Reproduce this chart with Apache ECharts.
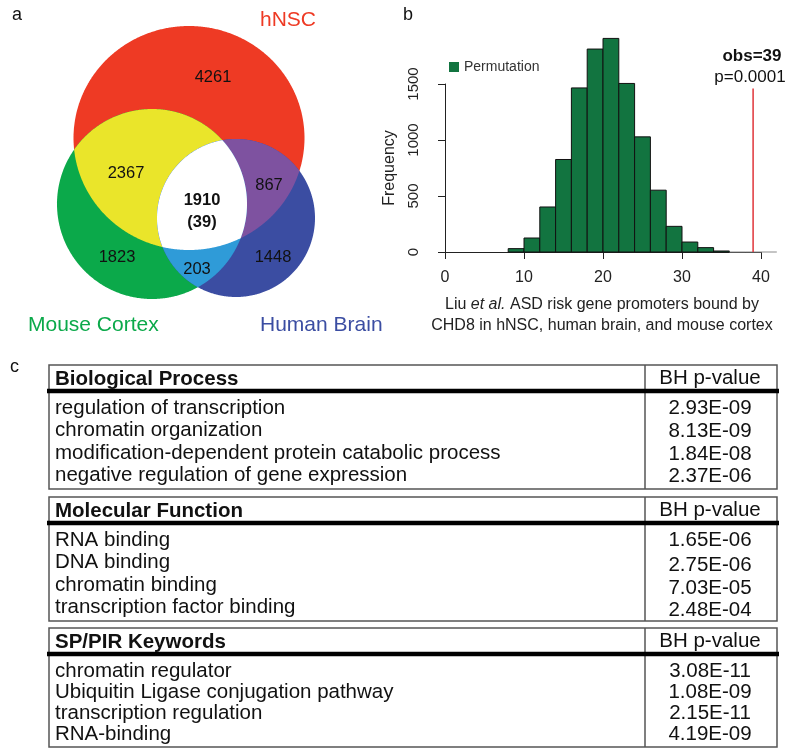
<!DOCTYPE html>
<html><head><meta charset="utf-8">
<script src="https://cdn.jsdelivr.net/npm/echarts@6/dist/echarts.min.js"></script>
<style>html,body{margin:0;padding:0;background:#fff}#c{width:800px;height:755px}</style>
</head><body><div id="c"></div>
<script>
// ---------- DATA ----------
// Panel a: Venn diagram
const setNames = ['hNSC', 'Mouse Cortex', 'Human Brain'];
const vennRegionNames = ['hNSC only', 'hNSC & Mouse Cortex', 'hNSC & Human Brain', 'all three', 'Mouse Cortex only', 'Mouse Cortex & Human Brain', 'Human Brain only'];
const vennCounts = [4261, 2367, 867, 1910, 1823, 203, 1448];
const asdInAllThree = 39;

// Panel b: permutation histogram
const binStarts = [8, 10, 12, 14, 16, 18, 20, 22, 24, 26, 28, 30, 32, 34, 36, 38, 40];
const binCounts = [30, 125, 402, 826, 1465, 1812, 1907, 1505, 1028, 552, 229, 89, 39, 9, 0, 0, 0];
const binWidth = 2;
const observedValue = 39;
const observedLineTop = 1460;
const pValueLabel = 'p=0.0001';
const xTickValues = [0, 10, 20, 30, 40];
const yTickValues = [0, 500, 1000, 1500];

// Panel c: enrichment tables
const tableTitles = ['Biological Process', 'Molecular Function', 'SP/PIR Keywords'];
const pColumnTitle = 'BH p-value';
const bpTerms = ['regulation of transcription', 'chromatin organization', 'modification-dependent protein catabolic process', 'negative regulation of gene expression'];
const bpPValues = ['2.93E-09', '8.13E-09', '1.84E-08', '2.37E-06'];
const mfTerms = ['RNA binding', 'DNA binding', 'chromatin binding', 'transcription factor binding'];
const mfPValues = ['1.65E-06', '2.75E-06', '7.03E-05', '2.48E-04'];
const kwTerms = ['chromatin regulator', 'Ubiquitin Ligase conjugation pathway', 'transcription regulation', 'RNA-binding'];
const kwPValues = ['3.08E-11', '1.08E-09', '2.15E-11', '4.19E-09'];

// ---------- LAYOUT / STYLE ----------
const FONT = "'Liberation Sans', Arial, Helvetica, sans-serif";
const circles = [
  { cx: 189, cy: 138, rx: 115.5, ry: 112 }, // hNSC
  { cx: 152, cy: 204, rx: 95, ry: 95 },     // Mouse Cortex
  { cx: 236, cy: 218, rx: 79, ry: 79 }      // Human Brain
];
const setColors = ['#EE3A24', '#0BA94A', '#3B4DA2'];
const pairColors = { rg: '#EAE52A', rb: '#7E52A0', gb: '#2F9BD8' };
const vennLabelPos = [[213, 77], [126, 173], [269, 185], [202, 200], [117, 257], [197, 269], [273, 257]];
const setLabelPos = [[288, 20, 'center'], [28, 325, 'left'], [260, 325, 'left']];

function exitT(px, py, dx, dy, e) {
  const ux = (px - e.cx) / e.rx, uy = (py - e.cy) / e.ry;
  const vx = dx / e.rx, vy = dy / e.ry;
  const a = vx * vx + vy * vy, b = ux * vx + uy * vy, c = ux * ux + uy * uy - 1;
  return (-b + Math.sqrt(Math.max(0, b * b - a * c))) / a;
}
function regionPoints(list) {
  let best = null, bd = -Infinity;
  for (let x = 0; x <= 360; x += 1.5) for (let y = 0; y <= 340; y += 1.5) {
    let d = Infinity;
    for (const e of list) d = Math.min(d, 1 - Math.hypot((x - e.cx) / e.rx, (y - e.cy) / e.ry));
    if (d > bd) { bd = d; best = [x, y]; }
  }
  const pts = [];
  const N = 720;
  for (let k = 0; k < N; k++) {
    const th = k / N * 2 * Math.PI, dx = Math.cos(th), dy = Math.sin(th);
    let t = Infinity;
    for (const e of list) t = Math.min(t, exitT(best[0], best[1], dx, dy, e));
    pts.push([best[0] + t * dx, best[1] + t * dy]);
  }
  return pts;
}
const [R, G, B] = circles;
const vennShapes = [
  { pts: regionPoints([R]), fill: setColors[0] },
  { pts: regionPoints([G]), fill: setColors[1] },
  { pts: regionPoints([B]), fill: setColors[2] },
  { pts: regionPoints([R, G]), fill: pairColors.rg },
  { pts: regionPoints([R, B]), fill: pairColors.rb },
  { pts: regionPoints([G, B]), fill: pairColors.gb },
  { pts: regionPoints([R, G, B]), fill: '#FFFFFF' }
];

function vennRender(params, api) {
  const children = [];
  vennShapes.forEach(s => {
    children.push({ type: 'polygon', shape: { points: s.pts.map(p => api.coord(p)) }, style: { fill: s.fill, stroke: null } });
  });
  vennCounts.forEach((v, i) => {
    const p = api.coord(vennLabelPos[i]);
    const bold = i === 3;
    children.push({ type: 'text', x: p[0], y: p[1], style: { text: String(v), font: (bold ? 'bold ' : '') + '16.5px ' + FONT, fill: '#111', textAlign: 'center', textVerticalAlign: 'middle', align: 'center', verticalAlign: 'middle' } });
  });
  const p39 = api.coord([vennLabelPos[3][0], vennLabelPos[3][1] + 22]);
  children.push({ type: 'text', x: p39[0], y: p39[1], style: { text: '(' + asdInAllThree + ')', font: 'bold 16.5px ' + FONT, fill: '#111', textAlign: 'center', textVerticalAlign: 'middle', align: 'center', verticalAlign: 'middle' } });
  setNames.forEach((n, i) => {
    const p = api.coord([setLabelPos[i][0], setLabelPos[i][1]]);
    children.push({ type: 'text', x: p[0], y: p[1], style: { text: n, font: '21px ' + FONT, fill: setColors[i], textAlign: setLabelPos[i][2], textVerticalAlign: 'middle', align: setLabelPos[i][2], verticalAlign: 'middle' } });
  });
  return { type: 'group', children };
}

function histRender(params, api) {
  const x0 = api.value(0), x1 = api.value(1), y = api.value(2);
  const pTop = api.coord([x0, y]);
  const pBot = api.coord([x1, 0]);
  if (y <= 0) {
    return { type: 'line', shape: { x1: pTop[0], y1: pBot[1], x2: pBot[0], y2: pBot[1] }, style: { stroke: '#8a8a8a', lineWidth: 1 } };
  }
  return { type: 'rect', shape: { x: pTop[0], y: pTop[1], width: pBot[0] - pTop[0], height: pBot[1] - pTop[1] }, style: { fill: '#127440', stroke: '#111', lineWidth: 1 } };
}

// ---------- TABLES (graphic) ----------
const tables = [
  { title: tableTitles[0], terms: bpTerms, pv: bpPValues, top: 365, step: 22.5, bottom: 489, pOff: 1 },
  { title: tableTitles[1], terms: mfTerms, pv: mfPValues, top: 497, step: 22.5, bottom: 621, pOff: 3 },
  { title: tableTitles[2], terms: kwTerms, pv: kwPValues, top: 628, step: 21.2, bottom: 747, pOff: 0 }
];
const TL = 49, TR = 777, TD = 645;
const TFONT = '20.5px ' + FONT;
const graphics = [];
function txt(x, y, text, font, align, fill) {
  return { type: 'text', x, y, style: { text, font, fill: fill || '#111', textAlign: align || 'left', textVerticalAlign: 'middle', align: align || 'left', verticalAlign: 'middle' } };
}
tables.forEach(t => {
  graphics.push({ type: 'rect', shape: { x: TL, y: t.top, width: TR - TL, height: t.bottom - t.top }, style: { fill: 'none', stroke: '#555', lineWidth: 1.5 } });
  graphics.push({ type: 'line', shape: { x1: TD, y1: t.top, x2: TD, y2: t.bottom }, style: { stroke: '#555', lineWidth: 1.5 } });
  graphics.push({ type: 'line', shape: { x1: TL - 2, y1: t.top + 26, x2: TR + 2, y2: t.top + 26 }, style: { stroke: '#000', lineWidth: 4.5 } });
  graphics.push(txt(55, t.top + 14, t.title, 'bold ' + TFONT));
  graphics.push(txt(710, t.top + 13, pColumnTitle, TFONT, 'center'));
  t.terms.forEach((term, i) => {
    const y = t.top + 43 + i * t.step;
    graphics.push(txt(55, y, term, TFONT));
    graphics.push(txt(710, y + (i ? t.pOff : 0), t.pv[i], TFONT, 'center'));
  });
});
// panel letters & histogram annotations
graphics.push(txt(12, 15, 'a', '18px ' + FONT));
graphics.push(txt(403, 15, 'b', '18px ' + FONT));
graphics.push(txt(10, 367, 'c', '18px ' + FONT));
graphics.push(txt(752, 56, 'obs=' + observedValue, 'bold 17px ' + FONT, 'center'));
graphics.push(txt(750, 77, pValueLabel, '17px ' + FONT, 'center'));
graphics.push({ type: 'text', x: 602, y: 305, style: { text: 'Liu {i|et al.} ASD risk gene promoters bound by', font: '16px ' + FONT, fill: '#222', textAlign: 'center', textVerticalAlign: 'middle', align: 'center', verticalAlign: 'middle', rich: { i: { font: 'italic 16px ' + FONT, fill: '#222' } } } });
graphics.push(txt(602, 326, 'CHD8 in hNSC, human brain, and mouse cortex', '16px ' + FONT, 'center', '#222'));

// ---------- CHART ----------
const chart = echarts.init(document.getElementById('c'), null, { renderer: 'canvas' });
chart.setOption({
  animation: false,
  backgroundColor: '#fff',
  textStyle: { fontFamily: FONT },
  grid: [
    { left: 0, top: 0, width: 360, height: 340 },
    { left: 445, top: 84, width: 316, height: 168 }
  ],
  xAxis: [
    { gridIndex: 0, type: 'value', min: 0, max: 360, show: false },
    { gridIndex: 1, type: 'value', min: xTickValues[0], max: xTickValues[xTickValues.length - 1], interval: 10, offset: 8,
      axisLine: { show: true, lineStyle: { color: '#222', width: 1 } },
      axisTick: { show: true, length: 7, lineStyle: { color: '#222' } },
      axisLabel: { fontSize: 16, color: '#222', margin: 10, fontFamily: FONT, formatter: v => String(v) },
      splitLine: { show: false } }
  ],
  yAxis: [
    { gridIndex: 0, type: 'value', min: 0, max: 340, inverse: true, show: false },
    { gridIndex: 1, type: 'value', min: yTickValues[0], max: yTickValues[yTickValues.length - 1], interval: 500, offset: 20,
      name: 'Frequency', nameLocation: 'middle', nameGap: 27, nameRotate: 90,
      nameTextStyle: { fontSize: 16, color: '#222', fontFamily: FONT },
      axisLine: { show: true, lineStyle: { color: '#222', width: 1 } },
      axisTick: { show: true, length: 7, lineStyle: { color: '#222' } },
      axisLabel: { fontSize: 15, color: '#222', rotate: 90, margin: 4, fontFamily: FONT, formatter: v => String(v) },
      splitLine: { show: false } }
  ],
  legend: {
    data: [{ name: 'Permutation', icon: 'rect' }],
    left: 444, top: 55, itemWidth: 10, itemHeight: 10, selectedMode: false,
    textStyle: { fontSize: 14, color: '#333', fontFamily: FONT }
  },
  graphic: { elements: graphics },
  series: [
    { type: 'custom', name: 'Venn', xAxisIndex: 0, yAxisIndex: 0, data: [[0, 0]], renderItem: vennRender, silent: true, clip: false },
    { type: 'custom', name: 'Permutation', xAxisIndex: 1, yAxisIndex: 1, clip: false,
      itemStyle: { color: '#127440' },
      encode: { x: [0, 1], y: 2 },
      data: binStarts.map((s, i) => [s, s + binWidth, binCounts[i]]),
      renderItem: histRender },
    { type: 'line', name: 'observed', xAxisIndex: 1, yAxisIndex: 1, symbol: 'none', clip: false,
      data: [[observedValue, 0], [observedValue, observedLineTop]],
      lineStyle: { color: '#E0353A', width: 1.5 } }
  ]
});
</script></body></html>
